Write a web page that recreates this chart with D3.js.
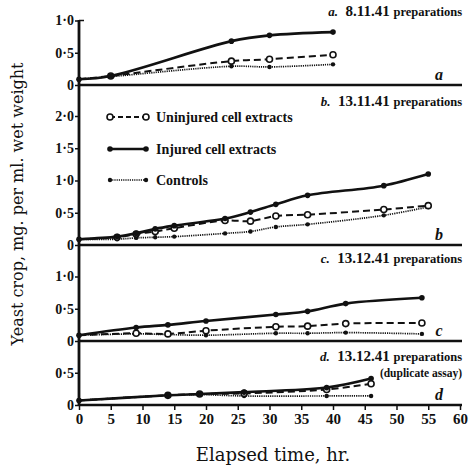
<!DOCTYPE html>
<html>
<head>
<meta charset="utf-8">
<script src="https://cdn.jsdelivr.net/npm/d3@7"></script>
<style>
  body { margin: 0; background: #fff; }
  svg { display: block; }
  text { font-family: "Liberation Serif", "DejaVu Serif", serif; fill: #111; }
</style>
</head>
<body>
<svg id="chart" width="469" height="465"></svg>
<script>
// a. 8.11.41 preparations
var hoursA = [0, 5, 24, 30, 40];
var injuredA = [0.09, 0.14, 0.68, 0.77, 0.82];
var uninjuredA = [0.09, 0.14, 0.37, 0.40, 0.47];
var controlsA = [0.09, 0.13, 0.29, 0.28, 0.32];

// b. 13.11.41 preparations
var hoursB = [0, 6, 9, 12, 15, 23, 27, 31, 36, 48, 55];
var injuredB = [0.09, 0.13, 0.18, 0.25, 0.30, 0.41, 0.51, 0.63, 0.77, 0.92, 1.10];
var uninjuredB = [0.09, 0.12, 0.17, 0.21, 0.26, 0.38, 0.37, 0.45, 0.47, 0.55, 0.61];
var controlsB = [0.09, 0.09, 0.11, 0.12, 0.13, 0.18, 0.21, 0.28, 0.32, 0.46, 0.59];

// c. 13.12.41 preparations
var hoursC = [0, 9, 14, 20, 31, 36, 42, 54];
var injuredC = [0.09, 0.21, 0.25, 0.31, 0.41, 0.46, 0.58, 0.67];
var uninjuredC = [0.09, 0.12, 0.11, 0.16, 0.22, 0.23, 0.27, 0.28];
var controlsC = [0.09, 0.11, 0.10, 0.09, 0.12, 0.12, 0.13, 0.11];

// d. 13.12.41 preparations (duplicate assay)
var hoursD = [0, 14, 19, 26, 39, 46];
var injuredD = [0.07, 0.15, 0.17, 0.20, 0.27, 0.41];
var uninjuredD = [0.07, 0.15, 0.17, 0.18, 0.24, 0.33];
var controlsD = [0.07, 0.15, 0.16, 0.14, 0.14, 0.14];

var xTicks = [0, 5, 10, 15, 20, 25, 30, 35, 40, 45, 50, 55, 60];
var legendLabels = ["Uninjured cell extracts", "Injured cell extracts", "Controls"];

var svg = d3.select("#chart");
var black = "#111";

var x = d3.scaleLinear().domain([0, 60]).range([79, 460]);

var panels = [
    { hours: hoursA, injured: injuredA, uninjured: uninjuredA, controls: controlsA,
      top: 1, base: 85, ticks: [0, 0.5, 1], letter: "a", date: "8.11.41", titleY: 16 },
    { hours: hoursB, injured: injuredB, uninjured: uninjuredB, controls: controlsB,
      top: 2, base: 245, ticks: [0, 0.5, 1, 1.5, 2], letter: "b", date: "13.11.41", titleY: 106 },
    { hours: hoursC, injured: injuredC, uninjured: uninjuredC, controls: controlsC,
      top: 1, base: 341, ticks: [0, 0.5, 1], letter: "c", date: "13.12.41", titleY: 263 },
    { hours: hoursD, injured: injuredD, uninjured: uninjuredD, controls: controlsD,
      top: 0.5, base: 405, ticks: [0, 0.5], letter: "d", date: "13.12.41", titleY: 361 }
];

function fmt(d) {
    return d === 0 ? "0" : d.toFixed(1).replace(".", "\u00b7");
}

panels.forEach(function (p) {
    var y = d3.scaleLinear().domain([0, p.top]).range([p.base, p.base - p.top * 64.5]);
    var g = svg.append("g");

    // y ticks
    g.append("g")
        .attr("transform", "translate(79,0)")
        .call(d3.axisLeft(y).tickValues(p.ticks).tickFormat(fmt).tickSize(4).tickSizeOuter(0))
        .call(function (a) { a.select(".domain").remove(); })
        .call(function (a) {
            a.selectAll("line").attr("stroke", black).attr("stroke-width", 1.5);
            a.selectAll("text")
                .attr("x", -5)
                .style("font-family", "'Liberation Serif', serif")
                .style("font-weight", "bold")
                .style("font-size", "14px")
                .attr("fill", black);
        });

    // baseline
    g.append("line")
        .attr("x1", 79).attr("x2", 462)
        .attr("y1", p.base).attr("y2", p.base)
        .attr("stroke", black).attr("stroke-width", 2.5);

    var pts = function (vals) {
        return p.hours.map(function (h, i) { return [x(h), y(vals[i])]; });
    };
    var line = d3.line().curve(d3.curveCatmullRom.alpha(0.5));

    // controls: dotted
    g.append("path")
        .attr("d", line(pts(p.controls)))
        .attr("fill", "none").attr("stroke", black)
        .attr("stroke-width", 1.7).attr("stroke-dasharray", "1.2,1");
    g.selectAll(".ctl").data(pts(p.controls)).enter().append("circle")
        .attr("cx", function (d) { return d[0]; })
        .attr("cy", function (d) { return d[1]; })
        .attr("r", 2.2).attr("fill", black);

    // uninjured: dashed, open circles
    g.append("path")
        .attr("d", line(pts(p.uninjured)))
        .attr("fill", "none").attr("stroke", black)
        .attr("stroke-width", 2).attr("stroke-dasharray", "7,4");
    g.selectAll(".uninj").data(pts(p.uninjured).slice(1)).enter().append("circle")
        .attr("cx", function (d) { return d[0]; })
        .attr("cy", function (d) { return d[1]; })
        .attr("r", 3).attr("fill", "#fff")
        .attr("stroke", black).attr("stroke-width", 1.6);

    // injured: solid, filled dots
    g.append("path")
        .attr("d", line(pts(p.injured)))
        .attr("fill", "none").attr("stroke", black)
        .attr("stroke-width", 2.6);
    g.selectAll(".inj").data(pts(p.injured)).enter().append("circle")
        .attr("cx", function (d) { return d[0]; })
        .attr("cy", function (d) { return d[1]; })
        .attr("r", 2.8).attr("fill", black);

    // panel title
    var t = g.append("text")
        .attr("x", 462).attr("y", p.titleY)
        .attr("text-anchor", "end")
        .style("font-weight", "bold");
    t.append("tspan").style("font-style", "italic").style("font-size", "13px").text(p.letter + ".");
    t.append("tspan").style("font-size", "15px").text("\u00a0 " + p.date + " ");
    t.append("tspan").style("font-size", "12.5px").text("preparations");

    // panel letter
    g.append("text")
        .attr("x", 439).attr("y", p.base - 5)
        .attr("text-anchor", "middle")
        .style("font-style", "italic").style("font-weight", "bold")
        .style("font-size", "16px")
        .text(p.letter);
});

// duplicate assay note
svg.append("text")
    .attr("x", 462).attr("y", 377)
    .attr("text-anchor", "end")
    .style("font-weight", "bold").style("font-size", "11.5px")
    .text("(duplicate assay)");

// y axis line
svg.append("line")
    .attr("x1", 79).attr("x2", 79)
    .attr("y1", 20).attr("y2", 406)
    .attr("stroke", black).attr("stroke-width", 2.8);
svg.append("line")
    .attr("x1", 79).attr("x2", 84)
    .attr("y1", 20.5).attr("y2", 20.5)
    .attr("stroke", black).attr("stroke-width", 1.5);

// x axis
svg.append("g")
    .attr("transform", "translate(0,405)")
    .call(d3.axisBottom(x).tickValues(xTicks).tickFormat(d3.format("d")).tickSize(5).tickSizeOuter(0))
    .call(function (a) { a.select(".domain").remove(); })
    .call(function (a) {
        a.selectAll("line").attr("stroke", black).attr("stroke-width", 1.5);
        a.selectAll("text")
            .attr("y", 8)
            .style("font-family", "'Liberation Serif', serif")
            .style("font-weight", "bold")
            .style("font-size", "15px")
            .attr("fill", black);
    });

// legend
var legendY = [117, 149, 180];
legendLabels.forEach(function (lab, i) {
    var lg = svg.append("g").attr("transform", "translate(0," + legendY[i] + ")");
    var ln = lg.append("line").attr("x1", 110).attr("x2", 146).attr("y1", 0).attr("y2", 0)
        .attr("stroke", black);
    if (i === 0) {
        ln.attr("stroke-width", 1.8).attr("stroke-dasharray", "5,3");
        [110, 146].forEach(function (cx) {
            lg.append("circle").attr("cx", cx).attr("cy", 0).attr("r", 3)
                .attr("fill", "#fff").attr("stroke", black).attr("stroke-width", 1.6);
        });
    } else if (i === 1) {
        ln.attr("stroke-width", 2.4);
        [110, 146].forEach(function (cx) {
            lg.append("circle").attr("cx", cx).attr("cy", 0).attr("r", 2.8).attr("fill", black);
        });
    } else {
        ln.attr("stroke-width", 1.5).attr("stroke-dasharray", "1.2,1");
        [110, 146].forEach(function (cx) {
            lg.append("circle").attr("cx", cx).attr("cy", 0).attr("r", 2.2).attr("fill", black);
        });
    }
    lg.append("text")
        .attr("x", 156).attr("y", 5)
        .style("font-weight", "bold").style("font-size", "14px")
        .text(lab);
});

// axis titles
svg.append("text")
    .attr("transform", "translate(23,204) rotate(-90)")
    .attr("text-anchor", "middle")
    .style("font-family", "'DejaVu Serif', serif")
    .style("font-size", "16px")
    .text("Yeast crop, mg. per ml. wet weight");

svg.append("text")
    .attr("x", 273).attr("y", 461)
    .attr("text-anchor", "middle")
    .style("font-family", "'DejaVu Serif', serif")
    .style("font-size", "18px")
    .text("Elapsed time, hr.");
</script>
</body>
</html>
